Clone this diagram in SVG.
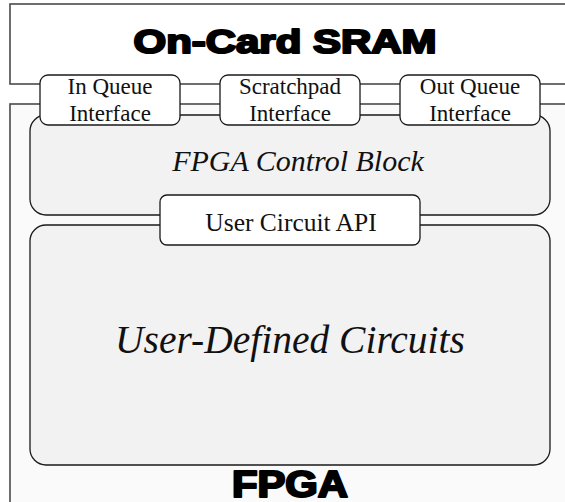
<svg xmlns="http://www.w3.org/2000/svg" width="565" height="502" viewBox="0 0 565 502">
  <style>
    .outer { fill: #ffffff; stroke: #4a4a4a; stroke-width: 1.6; }
    .fpga { fill: #fafafa; stroke: #4a4a4a; stroke-width: 1.6; }
    .block { fill: #f2f2f2; stroke: #1a1a1a; stroke-width: 1.3; }
    .port { fill: #ffffff; stroke: #1a1a1a; stroke-width: 1.3; }
    .title { font-family: "Liberation Sans", Arial, sans-serif; font-weight: 700; fill: #000; stroke: #000; stroke-width: 2.2; stroke-linejoin: round; text-anchor: middle; }
    .label { font-family: "Liberation Serif", "Times New Roman", serif; fill: #111; text-anchor: middle; }
    .ital { font-style: italic; }
  </style>

  <!-- Off-chip memory (extends past the right edge) -->
  <g id="sram">
    <rect class="outer" x="10" y="4" width="600" height="80"/>
    <text class="title" x="285" y="52.5" font-size="34" textLength="303" lengthAdjust="spacingAndGlyphs">On-Card SRAM</text>
  </g>

  <!-- FPGA fabric container (extends past the right and bottom edges) -->
  <g id="fpga">
    <rect class="fpga" x="10" y="104" width="600" height="450"/>
    <text class="title" x="290" y="496.5" font-size="36" textLength="116" lengthAdjust="spacingAndGlyphs">FPGA</text>
  </g>

  <g id="control-block">
    <rect class="block" x="30" y="115" width="520" height="100" rx="16" ry="16"/>
    <text class="label ital" x="298" y="170.5" font-size="30">FPGA Control Block</text>
  </g>

  <g id="user-circuits">
    <rect class="block" x="30" y="225" width="520" height="240" rx="16" ry="16"/>
    <text class="label ital" x="290" y="353" font-size="39.5">User-Defined Circuits</text>
  </g>

  <g id="in-queue">
    <rect class="port" x="40" y="75" width="140" height="50" rx="8" ry="8"/>
    <text class="label" x="110" y="93.5" font-size="23">In Queue</text>
    <text class="label" x="110" y="121" font-size="23">Interface</text>
  </g>

  <g id="scratchpad">
    <rect class="port" x="220" y="75" width="140" height="50" rx="8" ry="8"/>
    <text class="label" x="290" y="93.5" font-size="23">Scratchpad</text>
    <text class="label" x="290" y="121" font-size="23">Interface</text>
  </g>

  <g id="out-queue">
    <rect class="port" x="400" y="75" width="140" height="50" rx="8" ry="8"/>
    <text class="label" x="470" y="93.5" font-size="23">Out Queue</text>
    <text class="label" x="470" y="121" font-size="23">Interface</text>
  </g>

  <g id="user-api">
    <rect class="port" x="160" y="195" width="260" height="50" rx="7" ry="7"/>
    <text class="label" x="291" y="230.5" font-size="25.5">User Circuit API</text>
  </g>

  <g id="connectors"/>
</svg>
